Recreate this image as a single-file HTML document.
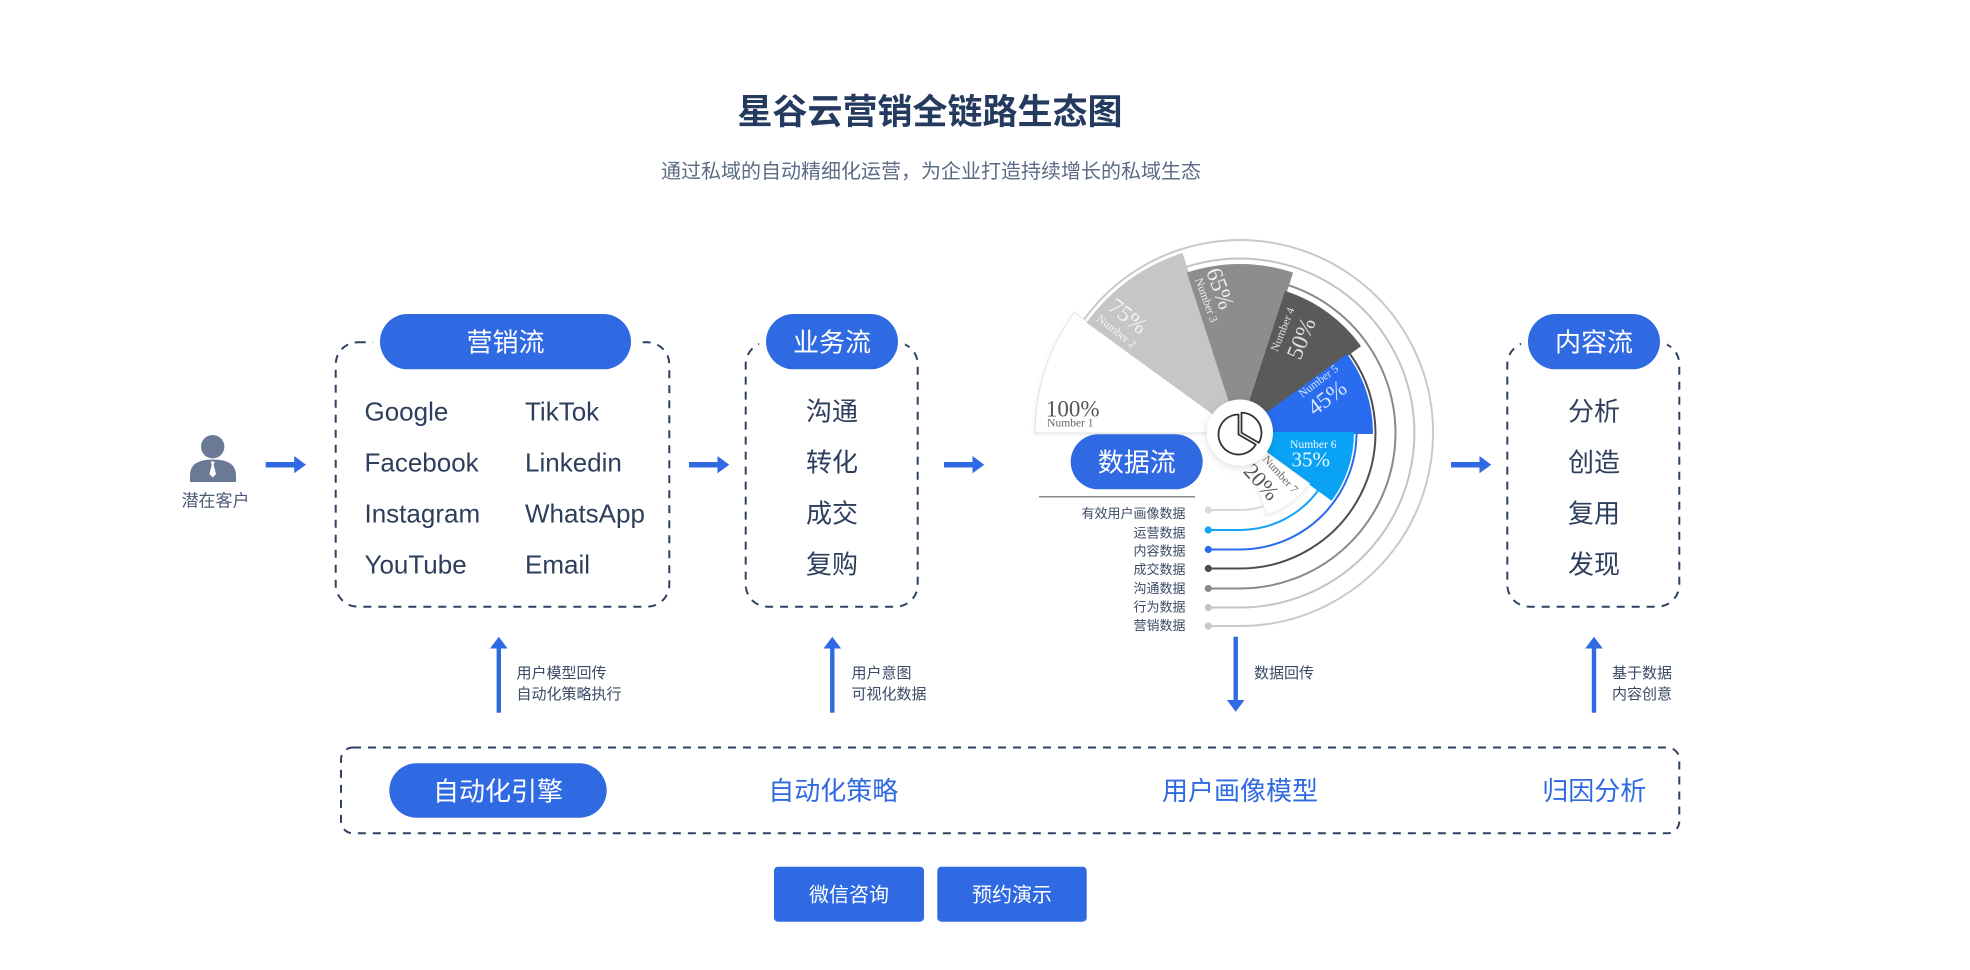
<!DOCTYPE html>
<html><head><meta charset="utf-8"><style>
html,body{margin:0;padding:0;background:#fff;}
svg{display:block;}
text{font-family:"Liberation Sans","Noto Sans CJK SC",sans-serif;}
.serif{font-family:"Liberation Serif",serif;}
</style></head><body>
<svg width="1970" height="970" viewBox="0 0 1970 970" xmlns="http://www.w3.org/2000/svg">
<defs>
<filter id="sh" x="-60%" y="-60%" width="220%" height="220%"><feDropShadow dx="0" dy="2" stdDeviation="4" flood-color="#000" flood-opacity="0.13"/></filter>
<filter id="sh2" x="-20%" y="-20%" width="140%" height="140%"><feDropShadow dx="0" dy="1" stdDeviation="2" flood-color="#000" flood-opacity="0.08"/></filter>
</defs>

<!-- Title -->
<text x="930" y="124" text-anchor="middle" font-size="35" font-weight="700" fill="#243a5e">星谷云营销全链路生态图</text>
<text x="931" y="178" text-anchor="middle" font-size="20" fill="#5b6b86">通过私域的自动精细化运营，为企业打造持续增长的私域生态</text>

<!-- Person -->
<circle cx="212.7" cy="446.7" r="11.7" fill="#6b7a94"/>
<path d="M190,482 L190,475 Q190,459.5 212.7,459.5 Q236,459.5 236,475 L236,482 Z" fill="#6b7a94"/>
<path d="M210.7,461.5 L214.7,461.5 L213.7,465 L216,474 L212.7,477.5 L209.4,474 L211.7,465 Z" fill="#fff"/>
<text x="215.5" y="506.5" text-anchor="middle" font-size="17" fill="#4a5a76">潜在客户</text>

<!-- Horizontal arrows -->
<g fill="#2f6ae2">
<rect x="265.7" y="462" width="29" height="5.5"/><polygon points="294.2,456 306,464.7 294.2,473.3"/>
<rect x="689" y="462" width="29" height="5.5"/><polygon points="717.5,456 729.3,464.7 717.5,473.3"/>
<rect x="944" y="462" width="29" height="5.5"/><polygon points="972.5,456 984.3,464.7 972.5,473.3"/>
<rect x="1451" y="462" width="29" height="5.5"/><polygon points="1479.5,456 1491.3,464.7 1479.5,473.3"/>
</g>

<!-- Dashed boxes -->
<g fill="none" stroke="#2f4163" stroke-width="2" stroke-dasharray="8 7">
<rect x="335.7" y="342.3" width="333.6" height="264.4" rx="22"/>
<rect x="745.7" y="342.3" width="172" height="264.4" rx="22"/>
<rect x="1507.3" y="342.3" width="172" height="264.4" rx="22"/>
<rect x="341" y="747.5" width="1338.3" height="85.8" rx="12"/>
</g>

<!-- Pills -->
<rect x="373" y="314" width="265" height="55.3" rx="27.6" fill="#fff"/>
<rect x="380" y="314" width="251" height="55.3" rx="27.6" fill="#2f6ae2"/>
<text x="505.5" y="351.5" text-anchor="middle" font-size="26" fill="#fff">营销流</text>

<rect x="759" y="314" width="146" height="55.3" rx="27.6" fill="#fff"/>
<rect x="766" y="314" width="132" height="55.3" rx="27.6" fill="#2f6ae2"/>
<text x="832" y="351.5" text-anchor="middle" font-size="26" fill="#fff">业务流</text>

<rect x="1521" y="314" width="146" height="55.3" rx="27.6" fill="#fff"/>
<rect x="1528" y="314" width="132" height="55.3" rx="27.6" fill="#2f6ae2"/>
<text x="1594" y="351.5" text-anchor="middle" font-size="26" fill="#fff">内容流</text>

<!-- Box 1 items -->
<g font-size="26" fill="#2d3e5c">
<text x="364.5" y="420.5">Google</text>
<text x="364.5" y="471.5">Facebook</text>
<text x="364.5" y="522.5">Instagram</text>
<text x="364.5" y="573.5">YouTube</text>
<text x="525" y="420.5">TikTok</text>
<text x="525" y="471.5">Linkedin</text>
<text x="525" y="522.5">WhatsApp</text>
<text x="525" y="573.5">Email</text>
</g>
<!-- Box 2 items -->
<g font-size="26" fill="#2d3e5c" text-anchor="middle">
<text x="832" y="420.5">沟通</text>
<text x="832" y="471.5">转化</text>
<text x="832" y="522.5">成交</text>
<text x="832" y="573.5">复购</text>
<text x="1594" y="420.5">分析</text>
<text x="1594" y="471.5">创造</text>
<text x="1594" y="522.5">复用</text>
<text x="1594" y="573.5">发现</text>
</g>

<!-- Chart arcs -->
<g fill="none" stroke-width="2">
<path d="M1208.3,626 L1240,626 A193,193 0 1 0 1083.9,319.6" stroke="#c9c9c9"/>
<path d="M1208.3,607.5 L1240,607.5 A174.5,174.5 0 1 0 1186.1,267.0" stroke="#c4c4c4"/>
<path d="M1208.3,588.5 L1240,588.5 A155.5,155.5 0 0 0 1288.0,285.1" stroke="#8a8a8a"/>
<path d="M1208.3,568.5 L1240,568.5 A135.5,135.5 0 0 0 1349.6,353.4" stroke="#4d4d4d"/>
<path d="M1208.3,549.5 L1240,549.5 A116.5,116.5 0 0 0 1356.5,433" stroke="#2a6cf0"/>
<path d="M1208.3,530 L1240,530 A97,97 0 0 0 1318.5,490.0" stroke="#12a5f5"/>
<path d="M1208.3,510 L1240,510 A77,77 0 0 0 1263.8,506.2" stroke="#d8d8d8"/>
</g>
<g>
<circle cx="1208.3" cy="626" r="3.6" fill="#c9c9c9"/>
<circle cx="1208.3" cy="607.5" r="3.6" fill="#c4c4c4"/>
<circle cx="1208.3" cy="588.5" r="3.6" fill="#8a8a8a"/>
<circle cx="1208.3" cy="568.5" r="3.6" fill="#4d4d4d"/>
<circle cx="1208.3" cy="549.5" r="3.6" fill="#2a6cf0"/>
<circle cx="1208.3" cy="530" r="3.6" fill="#12a5f5"/>
<circle cx="1208.3" cy="510" r="3.6" fill="#d8d8d8"/>
</g>

<!-- Wedges -->
<g stroke-linejoin="round">
<path d="M1240,433 L1035,433 A205,205 0 0 1 1074.2,312.5 Z" fill="#fff" stroke="#e3e3e3" stroke-width="1" filter="url(#sh2)"/>
<path d="M1240,433 L1087.9,322.5 A188,188 0 0 1 1181.9,254.2 Z" fill="#c6c6c6" stroke="#c6c6c6" stroke-width="2"/>
<path d="M1240,433 L1188.1,273.2 A168,168 0 0 1 1291.9,273.2 Z" fill="#8d8d8d" stroke="#8d8d8d" stroke-width="2"/>
<path d="M1240,433 L1285.7,292.2 A148,148 0 0 1 1359.7,346.0 Z" fill="#5a5a5a" stroke="#5a5a5a" stroke-width="2"/>
<path d="M1240,433 L1346.8,355.4 A132,132 0 0 1 1372,433 Z" fill="#2a6cf0" stroke="#2a6cf0" stroke-width="2"/>
<path d="M1240,433 L1353,433 A113,113 0 0 1 1331.4,499.4 Z" fill="#0aa2f5" stroke="#0aa2f5" stroke-width="2"/>
<path d="M1240,433 L1309.6,483.6 A86,86 0 0 1 1266.6,514.8 Z" fill="#fff" stroke="#efefef" stroke-width="1" filter="url(#sh2)"/>
</g>

<!-- Wedge labels -->
<g class="serif" text-anchor="middle">
<text class="serif" x="1072.7" y="408.3" dy="0.35em" font-size="23" fill="#555">100%</text>
<text class="serif" x="1070.3" y="422.7" dy="0.35em" font-size="11.5" fill="#666">Number 1</text>
<text class="serif" x="1128.3" y="315.7" dy="0.35em" font-size="23" fill="#f4f4f4" transform="rotate(38 1128.3 315.7)">75%</text>
<text class="serif" x="1116.7" y="331" dy="0.35em" font-size="11.5" fill="#f4f4f4" transform="rotate(38 1116.7 331)">Number 2</text>
<text class="serif" x="1220.7" y="288.3" dy="0.35em" font-size="23" fill="#eeeeee" transform="rotate(70 1220.7 288.3)">65%</text>
<text class="serif" x="1206.7" y="300" dy="0.35em" font-size="11.5" fill="#eeeeee" transform="rotate(70 1206.7 300)">Number 3</text>
<text class="serif" x="1282.3" y="329.3" dy="0.35em" font-size="11.5" fill="#e0e0e0" transform="rotate(-68 1282.3 329.3)">Number 4</text>
<text class="serif" x="1300.7" y="338.3" dy="0.35em" font-size="23" fill="#e0e0e0" transform="rotate(-68 1300.7 338.3)">50%</text>
<text class="serif" x="1318.3" y="380.7" dy="0.35em" font-size="11.5" fill="#d6e4ff" transform="rotate(-37 1318.3 380.7)">Number 5</text>
<text class="serif" x="1326.7" y="397.3" dy="0.35em" font-size="23" fill="#d6e4ff" transform="rotate(-37 1326.7 397.3)">45%</text>
<text class="serif" x="1313.3" y="444" dy="0.35em" font-size="11.5" fill="#f0f8ff">Number 6</text>
<text class="serif" x="1310.7" y="459.3" dy="0.35em" font-size="21" fill="#f0f8ff">35%</text>
<text class="serif" x="1280.7" y="474" dy="0.35em" font-size="11.5" fill="#666" transform="rotate(48 1280.7 474)">Number 7</text>
<text class="serif" x="1261.7" y="481.7" dy="0.35em" font-size="22" fill="#555" transform="rotate(48 1261.7 481.7)">20%</text>
</g>

<!-- Center circle + pie icon -->
<circle cx="1240" cy="432.5" r="33" fill="#fff" filter="url(#sh)"/>
<g transform="translate(1238.5,434.5)" fill="none" stroke="#333" stroke-width="1.8" stroke-linejoin="round">
<path d="M0,0 L0,-20 A20,20 0 1 0 17.3,10 Z"/>
<path d="M3,-1.75 L3,-21.75 A20,20 0 0 1 20.3,8.25 Z"/>
</g>

<!-- 数据流 pill -->
<rect x="1070.7" y="434.3" width="132" height="55" rx="27.5" fill="#2f6ae2"/>
<text x="1136.7" y="471.7" text-anchor="middle" font-size="26" fill="#fff">数据流</text>
<line x1="1039" y1="496.7" x2="1195" y2="496.7" stroke="#8a8a8a" stroke-width="1.5"/>

<!-- Legend -->
<g font-size="13" fill="#3b4a66" text-anchor="end">
<text x="1185.5" y="518.2">有效用户画像数据</text>
<text x="1185.5" y="537.6">运营数据</text>
<text x="1185.5" y="555.6">内容数据</text>
<text x="1185.5" y="574.2">成交数据</text>
<text x="1185.5" y="593.2">沟通数据</text>
<text x="1185.5" y="611.6">行为数据</text>
<text x="1185.5" y="629.9">营销数据</text>
</g>

<!-- Vertical arrows -->
<g fill="#2f6ae2">
<rect x="496.6" y="647" width="4.4" height="65.7"/><polygon points="490,648.5 498.8,636.7 507.6,648.5"/>
<rect x="830.1" y="647" width="4.4" height="65.7"/><polygon points="823.5,648.5 832.3,636.7 841.1,648.5"/>
<rect x="1591.8" y="647" width="4.4" height="65.7"/><polygon points="1585.2,648.5 1594,636.7 1602.8,648.5"/>
<rect x="1233.5" y="636.7" width="4.4" height="64.5"/><polygon points="1226.9,700 1235.7,711.7 1244.5,700"/>
</g>
<g font-size="15" fill="#3b4a66">
<text x="516.5" y="678.2">用户模型回传</text>
<text x="516.5" y="699.2">自动化策略执行</text>
<text x="851.5" y="678.2">用户意图</text>
<text x="851.5" y="699.2">可视化数据</text>
<text x="1254" y="678.2">数据回传</text>
<text x="1612" y="678.2">基于数据</text>
<text x="1612" y="699.2">内容创意</text>
</g>

<!-- Bottom row -->
<rect x="389.3" y="763.3" width="217.4" height="54.4" rx="27.2" fill="#2f6ae2"/>
<text x="498" y="800.4" text-anchor="middle" font-size="26" fill="#fff">自动化引擎</text>
<g font-size="26" fill="#2f6ae2" text-anchor="middle">
<text x="833.3" y="800">自动化策略</text>
<text x="1240" y="800">用户画像模型</text>
<text x="1594.2" y="800">归因分析</text>
</g>

<!-- Buttons -->
<rect x="774" y="866.7" width="150" height="55" rx="4" fill="#2f6ae2"/>
<text x="849" y="901.6" text-anchor="middle" font-size="20" fill="#fff">微信咨询</text>
<rect x="937.3" y="866.7" width="149.4" height="55" rx="4" fill="#2f6ae2"/>
<text x="1012" y="901.6" text-anchor="middle" font-size="20" fill="#fff">预约演示</text>
</svg>
</body></html>
